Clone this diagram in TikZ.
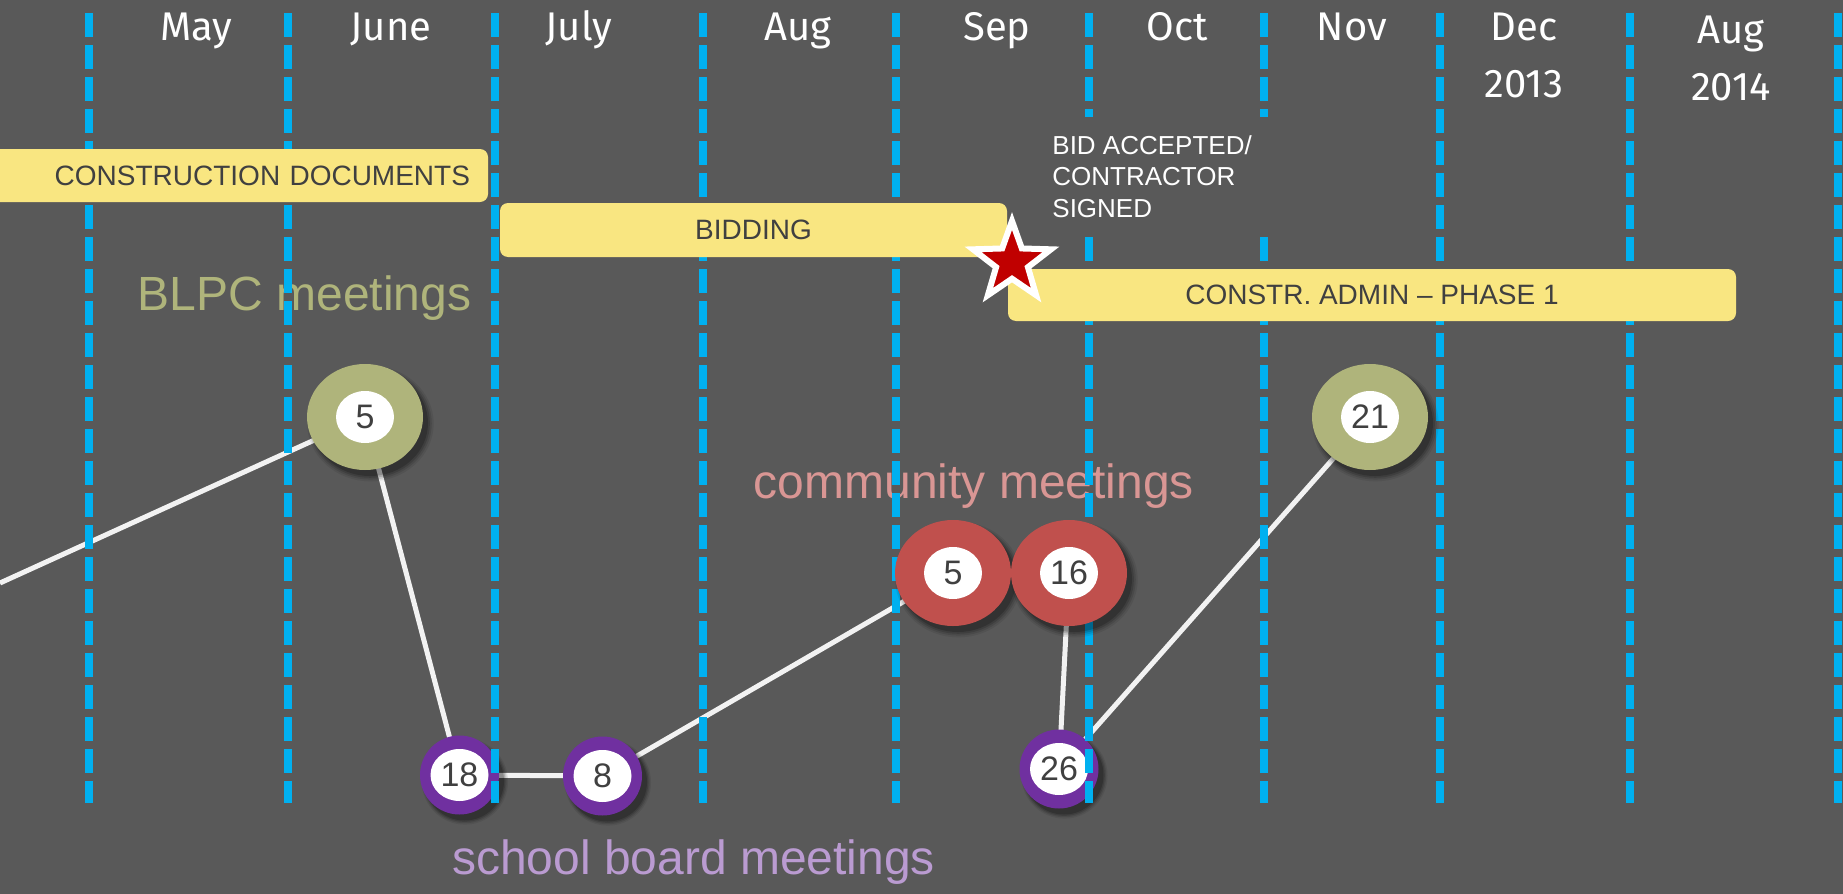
\documentclass[tikz,border=0pt]{standalone}
\usepackage{fontspec}
\setmainfont{Liberation Sans}
\newfontfamily\monthfont{Fira Sans}
\usetikzlibrary{shapes.geometric,shadows}
\definecolor{bgc}{HTML}{595959}
\definecolor{dashc}{HTML}{00B0F0}
\definecolor{barc}{HTML}{F9E681}
\definecolor{bartext}{HTML}{404040}
\definecolor{numc}{HTML}{404040}
\definecolor{olive}{HTML}{AFB47B}
\definecolor{redc}{HTML}{C0504D}
\definecolor{purp}{HTML}{7030A0}
\definecolor{connc}{HTML}{F2F2F2}
\definecolor{commt}{HTML}{D99694}
\definecolor{schoolt}{HTML}{BA9BD1}
\definecolor{starred}{HTML}{C00000}
\pgfdeclarelayer{bottom}
\pgfdeclarelayer{back}
\pgfsetlayers{bottom,back,main}
\tikzset{
  vdash/.style={draw=dashc, line width=3.75pt, dash pattern=on 12pt off 4pt},
  bar/.style={fill=barc, rounded corners=4pt, text=bartext, font=\fontsize{14}{16}\selectfont, inner sep=0pt},
  csh/.style={drop shadow={shadow xshift=2.5pt, shadow yshift=-3pt, opacity=0.08, fill=black, shadow scale=1.09},
              drop shadow={shadow xshift=2.5pt, shadow yshift=-3pt, opacity=0.10, fill=black, shadow scale=1.06},
              drop shadow={shadow xshift=2.5pt, shadow yshift=-3pt, opacity=0.14, fill=black, shadow scale=1.03},
              drop shadow={shadow xshift=2.5pt, shadow yshift=-3pt, opacity=0.18, fill=black}},
  bigring/.style={ellipse, inner sep=0pt, minimum width=58pt, minimum height=53pt, csh},
  smallring/.style={circle, inner sep=0pt, minimum size=39.5pt, fill=purp, csh},
  num/.style={ellipse, fill=white, inner sep=0pt, minimum width=29pt, minimum height=26pt, text=numc, font=\fontsize{17}{18}\selectfont},
  conn/.style={draw=connc, line width=2.5pt},
  month/.style={text=white, font=\monthfont\fontsize{20}{22}\selectfont, anchor=base, inner sep=0pt},
  bigtext/.style={font=\fontsize{24}{26}\selectfont, anchor=base, inner sep=0pt},
}
\begin{document}
\begin{tikzpicture}[x=0.5pt,y=-0.5pt]
\useasboundingbox (0,0) rectangle (1843,894);
\begin{pgfonlayer}{bottom}
  \fill[bgc] (0,0) rectangle (1843,894);
\end{pgfonlayer}
\begin{pgfonlayer}{back}
  \node[bigtext, text=olive] (blpc) at (304.5,310) {BLPC meetings};
  \node[bigtext, text=commt] (comm) at (974,498) {community meetings};
  \node[bigtext, text=schoolt] (school) at (693.5,874) {school board meetings};
\end{pgfonlayer}
% purple circles (below the dashed lines)
\node[smallring] (s18) at (459.5,775) {};
\node[num] (s18t) at (s18) {18};
\node[smallring] (s8) at (602.5,776) {};
\node[num] (s8t) at (s8) {8};
\node[smallring] (s26) at (1059,769) {};
\node[num] (s26t) at (s26) {26};
% dashed month separators
\foreach \x in {89,288,495,703,896,1440,1630,1838}
  \draw[vdash] (\x,13) -- (\x,803);
\foreach \x in {1089,1264} {
  \draw[vdash] (\x,13) -- (\x,117);
  \draw[vdash] (\x,237) -- (\x,803);
}
% bars
\node[bar, minimum width=254pt, minimum height=26.5pt, text width=236pt, align=right] (cd) at (234,175.5) {CONSTRUCTION DOCUMENTS};
\node[bar, minimum width=253.5pt, minimum height=27pt] (bid) at (753.5,230) {BIDDING};
\node[bar, minimum width=364pt, minimum height=26pt] (ca) at (1372,295) {CONSTR. ADMIN – PHASE 1};
\node[star, star points=5, star point ratio=2.45, fill=starred, draw=white, line width=3pt, minimum size=41pt, inner sep=0pt] (star) at (1012,262) {};
\node[anchor=north west, inner sep=0pt, align=left, text=white, font=\fontsize{13}{15.75}\selectfont] (acc) at (1052,135) {BID ACCEPTED/\\CONTRACTOR\\SIGNED};
% olive and red circles
\node[bigring, fill=olive] (b5) at (365,417) {};
\node[num] (b5t) at (b5) {5};
\node[bigring, fill=olive] (b21) at (1370,417) {};
\node[num] (b21t) at (b21) {21};
\node[bigring, fill=redc] (c5) at (953,573) {};
\node[num] (c5t) at (c5) {5};
\node[bigring, fill=redc] (c16) at (1069,573) {};
\node[num] (c16t) at (c16) {16};
% month labels
\node[month] (m1) at (196,40) {May};
\node[month] (m2) at (391,40) {June};
\node[month] (m3) at (579,40) {July};
\node[month] (m4) at (798,40) {Aug};
\node[month] (m5) at (997,40) {Sep};
\node[month] (m6) at (1177,40) {Oct};
\node[month] (m7) at (1352,40) {Nov};
\node[month] (m8) at (1524,40) {Dec};
\node[month] (y1) at (1524,97) {2013};
\node[month] (m9) at (1731,43) {Aug};
\node[month] (y2) at (1731,100) {2014};
% connectors
\coordinate (lstart) at (0,583);
\begin{pgfonlayer}{back}
  \draw[conn] (lstart) -- (b5.center);
  \draw[conn] (b5.center) -- (s18.center);
  \draw[conn] (s18.center) -- (s8.center);
  \draw[conn] (s8.center) -- (c5.center);
  \draw[conn] (c16.center) -- (s26.center);
  \draw[conn] (s26.center) -- (b21.center);
\end{pgfonlayer}
\end{tikzpicture}
\end{document}
